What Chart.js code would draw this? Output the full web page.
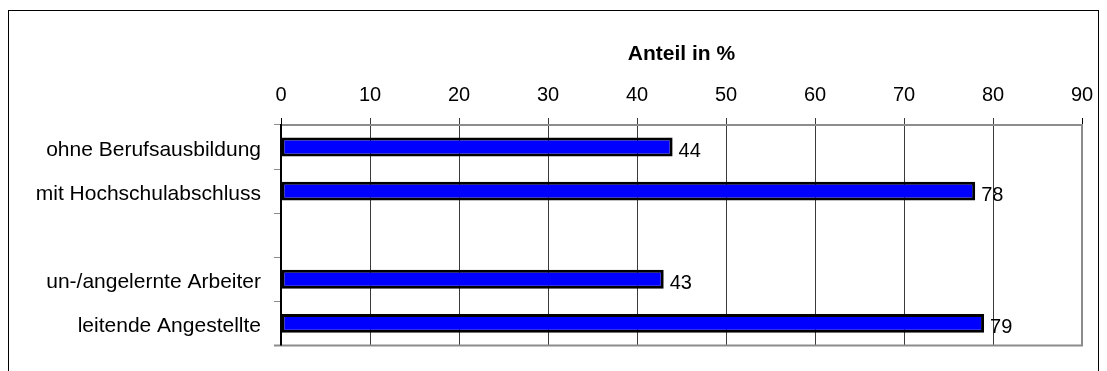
<!DOCTYPE html>
<html>
<head>
<meta charset="utf-8">
<script src="https://cdn.jsdelivr.net/npm/chart.js@4/dist/chart.umd.min.js"></script>
<style>
html,body{margin:0;padding:0;background:#fff;}
#wrap{width:1107px;height:371px;position:relative;}
</style>
</head>
<body>
<div id="wrap"><canvas id="c" width="1107" height="371"></canvas></div>
<script>
const categories = ["ohne Berufsausbildung", "mit Hochschulabschluss", "", "un-/angelernte Arbeiter", "leitende Angestellte"];
const values = [44, 78, null, 43, 79];
const axisTitle = "Anteil in %";
const xMin = 0, xMax = 90, xStep = 10;

const FONT = "'Liberation Sans', Arial, sans-serif";

const frame = {
  id: 'frame',
  beforeDraw(chart) {
    const c = chart.ctx;
    c.save();
    c.fillStyle = '#fff';
    c.fillRect(0, 0, chart.width, chart.height);
    c.strokeStyle = '#000';
    c.lineWidth = 1;
    c.strokeRect(8.5, 10.5, 1090, 420);
    c.restore();
  },
  afterDraw(chart) {
    const a = chart.chartArea, c = chart.ctx;
    c.save();
    c.strokeStyle = '#8c8c8c';
    c.lineWidth = 2;
    c.beginPath();
    c.moveTo(a.right, a.top);
    c.lineTo(a.right, a.bottom);
    c.lineTo(a.left - 7, a.bottom);
    c.stroke();
    c.strokeStyle = '#000';
    c.lineWidth = 2;
    c.beginPath();
    c.moveTo(a.left, a.top);
    c.lineTo(a.left, a.bottom);
    c.stroke();
    c.restore();
  }
};

const valueLabels = {
  id: 'valueLabels',
  afterDatasetsDraw(chart) {
    const c = chart.ctx;
    const meta = chart.getDatasetMeta(0);
    c.save();
    c.font = '20px ' + FONT;
    c.fillStyle = '#000';
    c.textAlign = 'left';
    c.textBaseline = 'middle';
    meta.data.forEach((bar, i) => {
      const v = values[i];
      if (v === null || v === undefined) return;
      c.fillText(String(v), bar.x + 6, bar.y + 4);
    });
    c.restore();
  }
};

new Chart(document.getElementById('c'), {
  type: 'bar',
  data: {
    labels: categories,
    datasets: [{
      data: values,
      backgroundColor: '#0000ff',
      borderColor: '#000',
      borderWidth: 3,
      borderSkipped: false,
      barPercentage: 0.43,
      categoryPercentage: 1
    }]
  },
  options: {
    indexAxis: 'y',
    responsive: false,
    animation: false,
    devicePixelRatio: 1,
    layout: { padding: { left: 0, right: 25, top: 0, bottom: 15 } },
    plugins: { legend: { display: false }, tooltip: { enabled: false } },
    scales: {
      x: {
        position: 'top',
        min: xMin, max: xMax,
        afterFit(s) { s.height = 125; },
        ticks: { stepSize: xStep, color: '#000', padding: 11, font: { family: FONT, size: 20 } },
        grid: {
          color: (ctx) => ctx.index === 0 || ctx.tick && ctx.tick.value === xMax ? '#000' : '#3a3a3a',
          lineWidth: 1,
          tickLength: 7,
          drawTicks: true
        },
        border: { display: true, color: '#8c8c8c', width: 2 },
        title: {
          display: true, text: axisTitle, color: '#000',
          font: { family: FONT, size: 21, weight: 'bold' },
          padding: { top: 42, bottom: 0 }
        }
      },
      y: {
        afterFit(s) { s.width = 281; },
        ticks: { color: '#000', padding: 13, labelOffset: 3, font: { family: FONT, size: 21 } },
        grid: { drawOnChartArea: false, tickLength: 7, color: '#8c8c8c', lineWidth: 1 },
        border: { display: true, color: '#000', width: 2 }
      }
    }
  },
  plugins: [frame, valueLabels]
});
</script>
</body>
</html>
